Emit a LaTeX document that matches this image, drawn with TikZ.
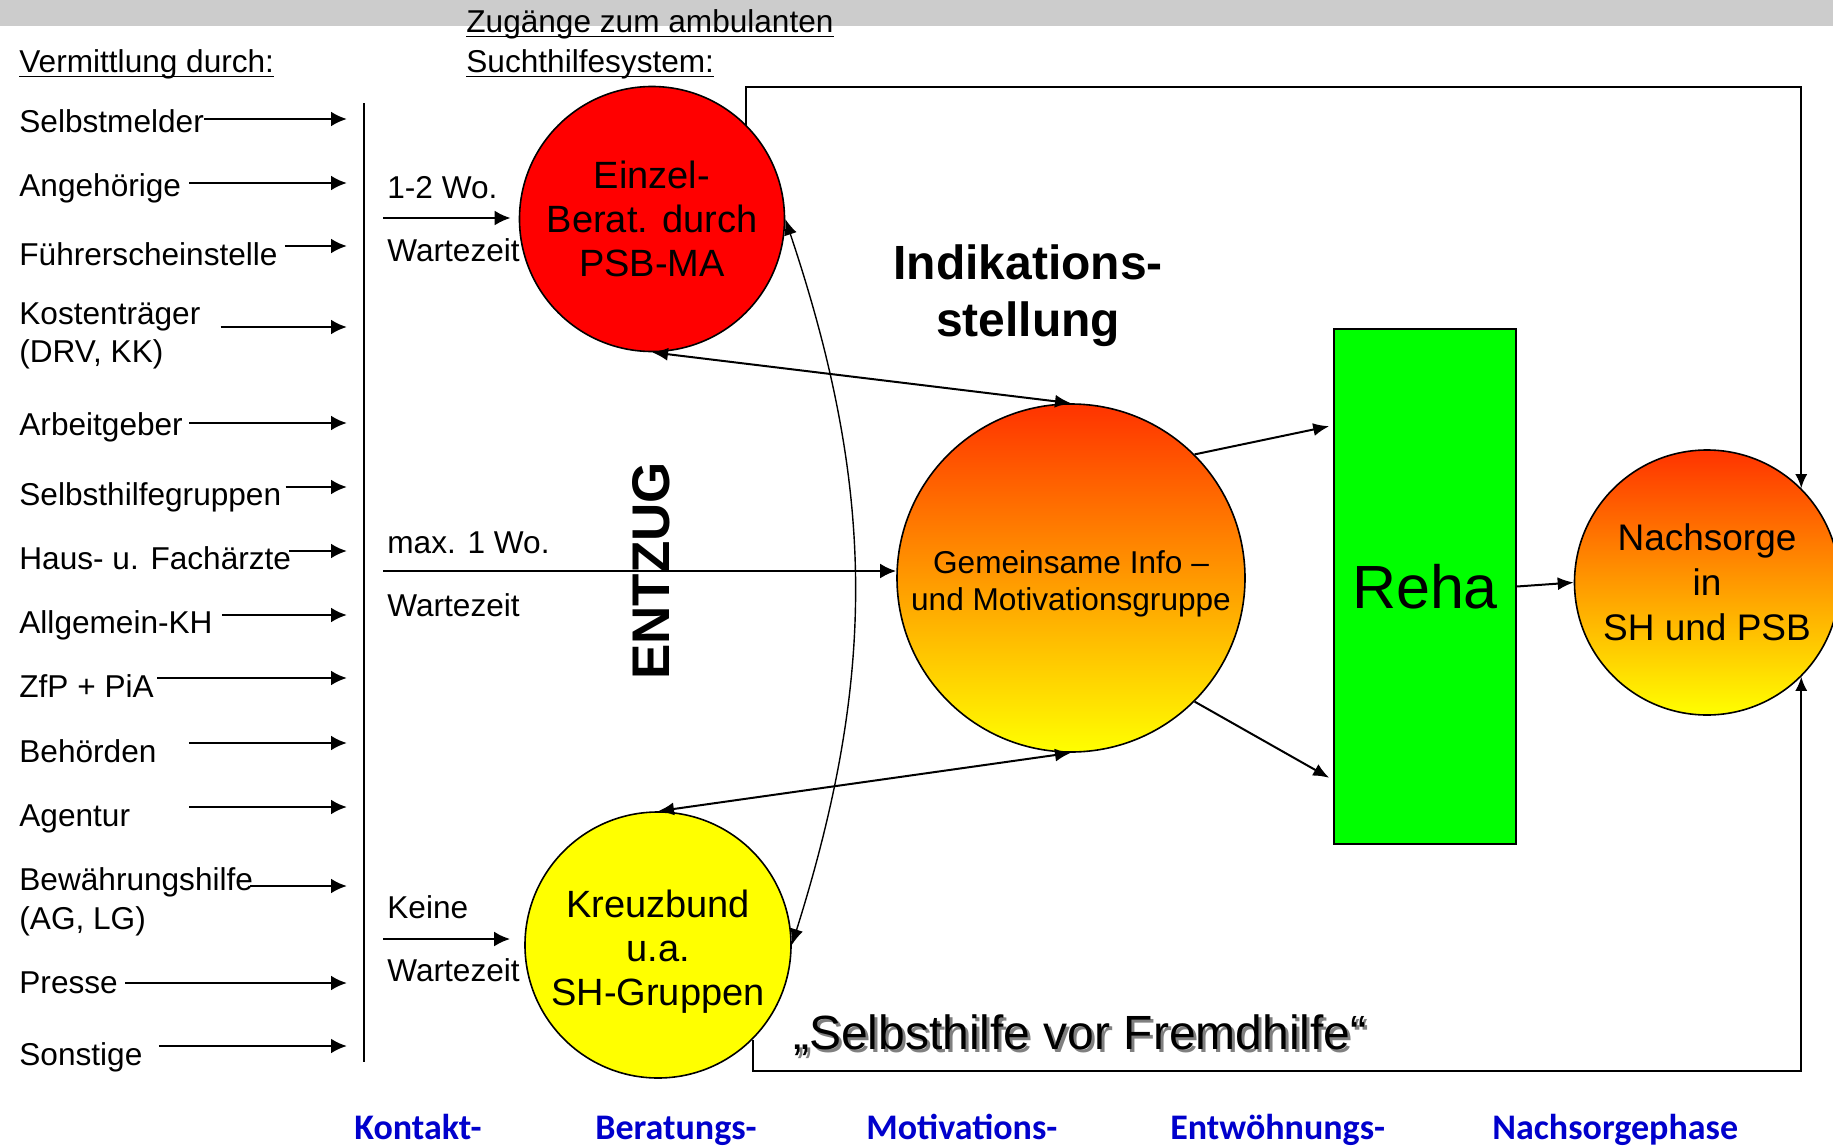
\documentclass[tikz,border=0pt]{standalone}
\usepackage{fontspec}
\setmainfont{Liberation Sans}
\newfontfamily\phasenschrift{Carlito}
\usetikzlibrary{arrows.meta,calc}

\definecolor{balkengrau}{RGB}{204,204,204}
\definecolor{phasenblau}{RGB}{0,0,204}
\definecolor{rotorange}{RGB}{255,51,0}
\definecolor{gelb}{RGB}{255,255,0}
\definecolor{rehagruen}{RGB}{0,255,0}

\tikzset{
  quelle/.style={anchor=west,inner sep=0pt,text height=11.3pt,text depth=0pt,
    font=\fontsize{15.8}{19}\selectfont},
  unterstrich/.style={line width=0.7pt},
  zufuhr/.style={line width=1.4pt,-{Latex[length=8pt,width=7.5pt]}},
  pfeil/.style={line width=1pt,-{Latex[length=8pt,width=6.5pt]}},
  doppelpfeil/.style={line width=1pt,{Latex[length=8pt,width=6.5pt]}-{Latex[length=8pt,width=6.5pt]}},
  rahmen/.style={line width=1pt,-{Latex[length=7pt,width=6pt]}},
  kreis/.style={circle,draw,line width=0.8pt,inner sep=0pt,align=center},
  verlauf/.style={kreis,top color=rotorange,bottom color=gelb},
  gross/.style={font=\fontsize{19}{22}\selectfont},
  phase/.style={anchor=base west,inner sep=0pt,text=phasenblau,
    font=\phasenschrift\bfseries\fontsize{18}{20}\selectfont},
}

\begin{document}
\begin{tikzpicture}[x=0.5pt,y=-0.5pt]
\useasboundingbox (0,0) rectangle (1833,1146);
% Kopfbalken
\fill[balkengrau] (0,0) rectangle (1833,26);

\coordinate (ende) at (347,0);
\coordinate (oben) at (0,87);
\coordinate (unten) at (0,1071);

% Ueberschriften
\node[quelle] (vermittlung) at (19,61) {Vermittlung durch:};
\node[quelle] (zugang) at (466,21) {Zugänge zum ambulanten};
\node[quelle] (zugangb) at (466,61) {Suchthilfesystem:};
\draw[unterstrich] ($(vermittlung.south west)+(0,4)$) -- ($(vermittlung.south east)+(0,4)$);
\draw[unterstrich] ($(zugang.south west)+(0,4)$) -- ($(zugang.south east)+(0,4)$);
\draw[unterstrich] ($(zugangb.south west)+(0,4)$) -- ($(zugangb.south east)+(0,4)$);

% Vermittler
\node[quelle] (selbst) at (19,121) {Selbstmelder};
\draw[zufuhr] ($(selbst.east)+(0,-2)$) -- ($(selbst.east -| ende)+(0,-2)$);
\node[quelle] (angeh) at (19,185) {Angehörige};
\draw[zufuhr] ($(angeh.east)+(8,-2)$) -- ($(angeh.east -| ende)+(0,-2)$);
\node[quelle] (fuehrer) at (19,254) {Führerscheinstelle};
\draw[zufuhr] ($(fuehrer.east)+(7,-8)$) -- ($(fuehrer.east -| ende)+(0,-8)$);
\node[quelle] (kosten) at (19,313) {Kostenträger};
\node[quelle] (kostenzus) at (19,351) {(DRV, KK)};
\draw[zufuhr] ($(kosten.east)+(20,14)$) -- ($(kosten.east -| ende)+(0,14)$);
\node[quelle] (arbeit) at (19,424) {Arbeitgeber};
\draw[zufuhr] ($(arbeit.east)+(6,-1)$) -- ($(arbeit.east -| ende)+(0,-1)$);
\node[quelle] (shg) at (19,494) {Selbsthilfegruppen};
\draw[zufuhr] ($(shg.east)+(4,-7)$) -- ($(shg.east -| ende)+(0,-7)$);
\node[quelle] (aerzte) at (19,558) {Haus- u. Fachärzte};
\draw[zufuhr] ($(aerzte.east)+(-2,-7)$) -- ($(aerzte.east -| ende)+(0,-7)$);
\node[quelle] (kh) at (19,622) {Allgemein-KH};
\draw[zufuhr] ($(kh.east)+(9,-7)$) -- ($(kh.east -| ende)+(0,-7)$);
\node[quelle] (zfp) at (19,686) {ZfP + PiA};
\draw[zufuhr] ($(zfp.east)+(3,-8)$) -- ($(zfp.east -| ende)+(0,-8)$);
\node[quelle] (behoerd) at (19,751) {Behörden};
\draw[zufuhr] ($(behoerd.east)+(32,-8)$) -- ($(behoerd.east -| ende)+(0,-8)$);
\node[quelle] (agentur) at (19,815) {Agentur};
\draw[zufuhr] ($(agentur.east)+(59,-8)$) -- ($(agentur.east -| ende)+(0,-8)$);
\node[quelle] (bewaehr) at (19,879) {Bewährungshilfe};
\node[quelle] (bewaehrzus) at (19,918) {(AG, LG)};
\draw[zufuhr] ($(bewaehr.east)+(-3,7)$) -- ($(bewaehr.east -| ende)+(0,7)$);
\node[quelle] (presse) at (19,982) {Presse};
\draw[zufuhr] ($(presse.east)+(7,1)$) -- ($(presse.east -| ende)+(0,1)$);
\node[quelle] (sonst) at (19,1054) {Sonstige};
\draw[zufuhr] ($(sonst.east)+(16,-8)$) -- ($(sonst.east -| ende)+(0,-8)$);

\draw[line width=1.4pt] (364,103) -- (364,1062);

% Kreise und Reha
\node[kreis,gross,fill=red,minimum size=132.5pt] (einzel) at (652,219) {Einzel-\\Berat. durch\\PSB-MA};
\node[verlauf,minimum size=174pt,font=\fontsize{15.8}{18.5}\selectfont] (motiv) at (1071,578) {\rule{0pt}{17.5pt}Gemeinsame Info –\\und Motivationsgruppe};
\node[kreis,gross,fill=gelb,minimum size=133pt] (kreuzbund) at (658,945) {\rule{0pt}{20pt}Kreuzbund\\u.a.\\SH-Gruppen};
\node[verlauf,minimum size=132.5pt,font=\fontsize{18.5}{22.5}\selectfont] (nachsorge) at (1707,582.5) {Nachsorge\\in\\SH und PSB};
\node[draw,fill=rehagruen,line width=0.8pt,minimum width=91pt,minimum height=257.5pt,
  inner sep=0pt,font=\fontsize{30.5}{34}\selectfont] (reha) at (1425,586.5) {Reha};

% Wartezeiten
\node[quelle] (zeit1) at (387,187) {1-2 Wo.};
\coordinate (warte1) at (383,218);
\draw[zufuhr,shorten >=4pt] (warte1) -- (warte1 -| einzel.west);
\node[quelle] (zeit1b) at (387,250) {Wartezeit};
\node[quelle] (zeit2) at (387,542) {max. 1 Wo.};
\coordinate (warte2) at (383,571);
\draw[zufuhr] (warte2) -- (warte2 -| motiv.west);
\node[quelle] (zeit2b) at (387,605) {Wartezeit};
\node[quelle] (zeit3) at (387,907) {Keine};
\coordinate (warte3) at (383,939);
\draw[zufuhr,shorten >=7pt] (warte3) -- (warte3 -| kreuzbund.west);
\node[quelle] (zeit3b) at (387,970) {Wartezeit};

% Verbindungen
\draw[rahmen] (einzel.45) |- (nachsorge.45 |- oben) -- (nachsorge.45);
\draw[rahmen] (kreuzbund.-45) |- (nachsorge.-45 |- unten) -- (nachsorge.-45);
\draw[doppelpfeil] (einzel.south) -- (motiv.north);
\draw[doppelpfeil] (kreuzbund.north) -- (motiv.south);
\draw[doppelpfeil,line width=0.7pt] (einzel.east) to[bend left=18] (kreuzbund.east);
\draw[pfeil] (motiv.45) -- ($(reha.north west)+(-4,98)$);
\draw[pfeil] (motiv.-45) -- ($(reha.south west)+(-4,-67)$);
\draw[pfeil] (reha.east) -- (nachsorge.west);

% Texte
\node[rotate=90,font=\bfseries\fontsize{26.5}{30}\selectfont] (entzug) at (651,571) {ENTZUG};
\node[align=center,font=\bfseries\fontsize{24}{28.5}\selectfont] (indikation) at (1028,296) {Indikations-\\stellung};
\node[text=gray,font=\fontsize{24}{28}\selectfont] (mottoschatten) at (1083,1038) {„Selbsthilfe vor Fremdhilfe“};
\node[font=\fontsize{24}{28}\selectfont] (motto) at (1080,1035) {„Selbsthilfe vor Fremdhilfe“};

% Phasen
\node[phase] (kontakt) at (354,1139) {Kontakt-};
\node[phase] (beratung) at (595,1139) {Beratungs-};
\node[phase] (motivation) at (866,1139) {Motivations-};
\node[phase] (entwoehnung) at (1170,1139) {Entwöhnungs-};
\node[phase] (nachsorgephase) at (1492,1139) {Nachsorgephase};
\end{tikzpicture}
\end{document}
